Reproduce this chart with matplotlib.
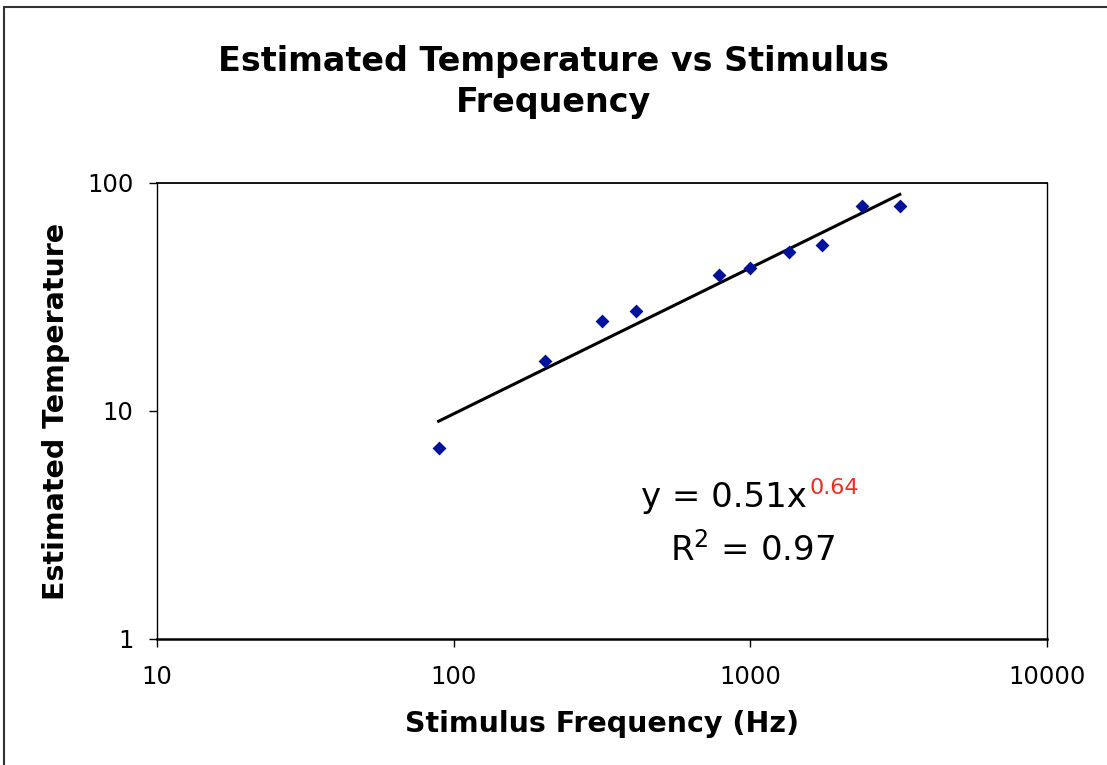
import numpy as np
import matplotlib
matplotlib.use("Agg")
import matplotlib.pyplot as plt
from matplotlib.patches import Rectangle

# Data
frequency_hz = [89, 203, 316, 411, 784, 997, 1349, 1742, 2377, 3190]
temperature = [6.9, 16.6, 24.8, 27.5, 39.5, 42.4, 49.8, 53.5, 79.2, 79.2]
fit_coef = 0.51
fit_exp = 0.64
r_squared = 0.97
x_ticks = [10, 100, 1000, 10000]
y_ticks = [1, 10, 100]

fig = plt.figure(figsize=(11.07, 7.65), dpi=100)
fig.patch.set_facecolor("white")

# outer chart border
fig.patches.append(Rectangle((4/1107, -0.05), 1.2, 1 - 7/765 + 0.05,
                             transform=fig.transFigure, fill=False,
                             edgecolor="#333333", linewidth=1.5))

ax = fig.add_axes([157/1107, 1 - 639/765, (1047-157)/1107, (639-183)/765])
ax.set_xscale("log")
ax.set_yscale("log")
ax.set_xlim(10, 10000)
ax.set_ylim(1, 100)

ax.scatter(frequency_hz, temperature, marker="D", s=50, color="#00129A",
           zorder=3, linewidths=0)

xf = np.logspace(np.log10(min(frequency_hz)), np.log10(max(frequency_hz)), 100)
ax.plot(xf, fit_coef * xf ** fit_exp, color="black", linewidth=2.2, zorder=2)

ax.set_xticks(x_ticks)
ax.set_xticklabels([str(v) for v in x_ticks])
ax.set_yticks(y_ticks)
ax.set_yticklabels([str(v) for v in y_ticks])
ax.minorticks_off()
ax.tick_params(axis="both", direction="out", length=6, width=1, labelsize=17.5)
ax.tick_params(axis="x", pad=13)
ax.tick_params(axis="y", pad=11)
for s in ax.spines.values():
    s.set_linewidth(1)
ax.spines["bottom"].set_linewidth(1.8)
ax.spines["top"].set_linewidth(1.3)

ax.set_xlabel("Stimulus Frequency (Hz)", fontsize=20.5, fontweight="bold",
              labelpad=15)
ax.set_ylabel("Estimated Temperature", fontsize=20.5, fontweight="bold",
              labelpad=12)

fig.text(0.5, 1 - 82/765, "Estimated Temperature vs Stimulus\nFrequency",
         ha="center", va="center", fontsize=24, fontweight="bold",
         linespacing=1.3)

ax.text(0.544, 0.311, f"y = {fit_coef}x", transform=ax.transAxes,
        fontsize=24.5, ha="left", va="center")
ax.text(0.733, 0.331, f"{fit_exp}", transform=ax.transAxes, fontsize=16,
        color="#E8301E", ha="left", va="center")
ax.text(0.576, 0.197, f"R$^2$ = {r_squared}", transform=ax.transAxes,
        fontsize=24.5, ha="left", va="center")

fig.savefig("out.png", dpi=100)
